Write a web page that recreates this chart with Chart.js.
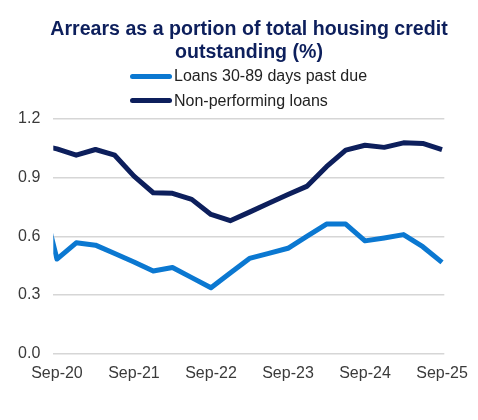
<!DOCTYPE html>
<html>
<head>
<meta charset="utf-8">
<script src="https://cdn.jsdelivr.net/npm/chart.js@4.4.1/dist/chart.umd.min.js"></script>
<style>
  html, body { margin: 0; padding: 0; background: #ffffff; }
  #wrap { position: relative; width: 478px; height: 420px; overflow: hidden; background: #fff; }
  #chart { position: absolute; left: 0; top: 0; }
  #title {
    position: absolute; left: 20px; width: 458px; top: 17px;
    text-align: center; font-family: "Liberation Sans", Arial, sans-serif;
    font-weight: bold; font-size: 19.6px; line-height: 22.5px; color: #0d1f5c;
  }
  .leg { position: absolute; left: 0; font-family: "Liberation Sans", Arial, sans-serif;
    font-size: 16px; line-height: 18px; color: #222222; white-space: nowrap; }
  .sw { position: absolute; width: 42px; height: 5px; border-radius: 2.5px; }
</style>
</head>
<body>
<div id="wrap">
  <canvas id="chart" width="478" height="420"></canvas>
  <div id="title">Arrears as a portion of total housing credit<br>outstanding (%)</div>
  <div id="legend"></div>
</div>
<script>
// ---- Data (quarterly) ----
const quarters = ["Jun-20","Sep-20","Dec-20","Mar-21","Jun-21","Sep-21","Dec-21","Mar-22","Jun-22",
  "Sep-22","Dec-22","Mar-23","Jun-23","Sep-23","Dec-23","Mar-24","Jun-24","Sep-24","Dec-24",
  "Mar-25","Jun-25","Sep-25"];
const pastDue = [0.88, 0.484, 0.567, 0.555, 0.512, 0.469, 0.423, 0.441, 0.389, 0.337, 0.413,
  0.487, 0.513, 0.539, 0.601, 0.663, 0.663, 0.577, 0.592, 0.609, 0.547, 0.467];
const nonPerforming = [1.07, 1.047, 1.015, 1.044, 1.015, 0.908, 0.823, 0.820, 0.789, 0.712, 0.680,
  0.724, 0.769, 0.814, 0.857, 0.956, 1.041, 1.066, 1.055, 1.078, 1.075, 1.044];
const xTickLabels = ["Sep-20","Sep-21","Sep-22","Sep-23","Sep-24","Sep-25"];
const yTickValues = [0, 0.3, 0.6, 0.9, 1.2];
const seriesNames = ["Loans 30-89 days past due", "Non-performing loans"];
const seriesColors = ["#0b78d1", "#0d1f5c"];

// x position: quarters counted from Sep-20
const originIdx = quarters.indexOf("Sep-20");
const toPoints = arr => arr.map((v, i) => ({ x: i - originIdx, y: v }));
const xTickPos = xTickLabels.map(l => quarters.indexOf(l) - originIdx);

// ---- HTML legend ----
const legend = document.getElementById('legend');
const legendY = [76, 100.5];
const legendTextY = [76, 101];
seriesNames.forEach((name, i) => {
  const sw = document.createElement('div');
  sw.className = 'sw';
  sw.style.left = '130px';
  sw.style.top = (legendY[i] - 2.5) + 'px';
  sw.style.background = seriesColors[i];
  legend.appendChild(sw);
  const t = document.createElement('div');
  t.className = 'leg';
  t.style.left = '174px';
  t.style.top = (legendTextY[i] - 8.8) + 'px';
  t.textContent = name;
  legend.appendChild(t);
});

const FONT = { family: '"Liberation Sans", Arial, sans-serif', size: 16 };

new Chart(document.getElementById('chart'), {
  type: 'line',
  data: {
    datasets: [
      { label: seriesNames[0], data: toPoints(pastDue), borderColor: seriesColors[0],
        backgroundColor: seriesColors[0], borderWidth: 5, pointRadius: 0, tension: 0,
        borderJoinStyle: 'round', borderCapStyle: 'butt', clip: { left: 0, right: 6, top: 6, bottom: 6 } },
      { label: seriesNames[1], data: toPoints(nonPerforming), borderColor: seriesColors[1],
        backgroundColor: seriesColors[1], borderWidth: 5, pointRadius: 0, tension: 0,
        borderJoinStyle: 'round', borderCapStyle: 'butt', clip: { left: 0, right: 6, top: 6, bottom: 6 } }
    ]
  },
  options: {
    responsive: false,
    animation: false,
    devicePixelRatio: 1,
    layout: { padding: { left: 0, right: 33, top: 119, bottom: 0 } },
    plugins: { legend: { display: false }, title: { display: false }, tooltip: { enabled: false } },
    scales: {
      x: {
        type: 'linear', min: -0.19, max: 20.12,
        grid: { display: false, drawTicks: false },
        border: { display: false },
        afterBuildTicks: s => { s.ticks = xTickPos.map(v => ({ value: v })); },
        afterFit: s => { s.height = 420 - 353.7; },
        ticks: {
          autoSkip: false, maxRotation: 0, padding: 10, color: '#3a3a3a', font: FONT,
          callback: v => quarters[Math.round(v) + originIdx]
        }
      },
      y: {
        min: 0, max: 1.2,
        grid: { color: '#d6d6d6', lineWidth: 1.5, drawTicks: false },
        border: { display: false },
        afterBuildTicks: s => { s.ticks = yTickValues.map(v => ({ value: v })); },
        afterFit: s => { s.width = 53.3; },
        ticks: { padding: 13, color: '#3a3a3a', font: FONT, callback: v => v.toFixed(1) }
      }
    }
  }
});
</script>
</body>
</html>
